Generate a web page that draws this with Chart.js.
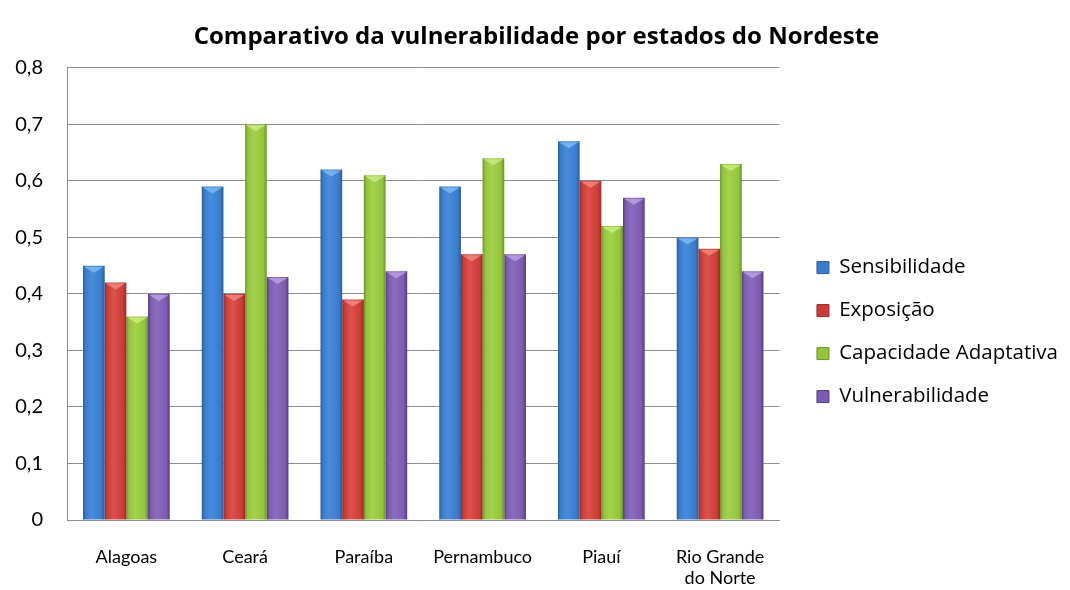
<!DOCTYPE html>
<html><head><meta charset="utf-8">
<script src="https://cdn.jsdelivr.net/npm/chart.js@4/dist/chart.umd.min.js"></script>
<style>html,body{margin:0;padding:0;background:#fff}#wrap{width:1070px;height:590px}</style>
</head><body><div id="wrap"><canvas id="c"></canvas></div>
<script>
const categories = ['Alagoas', 'Ceará', 'Paraíba', 'Pernambuco', 'Piauí', ['Rio Grande', 'do Norte']];
const seriesNames = ['Sensibilidade', 'Exposição', 'Capacidade Adaptativa', 'Vulnerabilidade'];
const sensibilidade = [0.45, 0.59, 0.62, 0.59, 0.67, 0.50];
const exposicao = [0.42, 0.40, 0.39, 0.47, 0.60, 0.48];
const capacidade = [0.36, 0.70, 0.61, 0.64, 0.52, 0.63];
const vulnerabilidade = [0.40, 0.43, 0.44, 0.47, 0.57, 0.44];
const yTicks = [0, 0.1, 0.2, 0.3, 0.4, 0.5, 0.6, 0.7, 0.8];

const palettes = [
  {dark:'#2a5a9a', mid:'#3a7ccc', light:'#4a8cdc', top:'#7fbcf2'},
  {dark:'#962a26', mid:'#cc3c36', light:'#dc524a', top:'#f08a84'},
  {dark:'#6a9226', mid:'#94c43c', light:'#a4d24e', top:'#cdec86'},
  {dark:'#523a7c', mid:'#7c5cae', light:'#8c6cbe', top:'#bca4e4'}
];

const FONT = 'Lato, "Open Sans", sans-serif';
const FONT2 = '"Open Sans", Lato, sans-serif';

function barGradient(ctx2d, x, w, p) {
  const g = ctx2d.createLinearGradient(x - w/2, 0, x + w/2, 0);
  g.addColorStop(0, p.dark);
  g.addColorStop(0.12, p.mid);
  g.addColorStop(0.4, p.light);
  g.addColorStop(0.85, p.mid);
  g.addColorStop(1, p.dark);
  return g;
}

const barStyler = {
  id: 'barStyler',
  beforeDatasetsDraw(chart) {
    const c = chart.ctx;
    chart.data.datasets.forEach((ds, i) => {
      const meta = chart.getDatasetMeta(i);
      meta.data.forEach(el => {
        el.options.backgroundColor = barGradient(c, el.x, el.width, palettes[i]);
      });
    });
  },
  afterDatasetsDraw(chart) {
    const c = chart.ctx;
    chart.data.datasets.forEach((ds, i) => {
      const meta = chart.getDatasetMeta(i);
      meta.data.forEach(el => {
        const l = el.x - el.width/2, r = el.x + el.width/2, t = el.y;
        c.save();
        c.fillStyle = palettes[i].top;
        c.globalAlpha = 0.8;
        c.beginPath();
        c.moveTo(l + 1, t + 1);
        c.lineTo(r - 1, t + 1);
        c.lineTo(el.x, t + 7);
        c.closePath();
        c.fill();
        c.restore();
      });
    });
  }
};

function build() {
new Chart(document.getElementById('c'), {
  type: 'bar',
  data: {
    labels: categories,
    datasets: [sensibilidade, exposicao, capacidade, vulnerabilidade].map((d, i) => ({
      label: seriesNames[i],
      data: d,
      backgroundColor: () => palettes[i].mid,
      borderWidth: 0,
      categoryPercentage: 0.73,
      barPercentage: 1.0
    }))
  },
  options: {
    responsive: true,
    maintainAspectRatio: false,
    animation: false,
    layout: {padding: {left: 5, right: 2, top: 10, bottom: 0}},
    plugins: {
      title: {
        display: true,
        text: 'Comparativo da vulnerabilidade por estados do Nordeste',
        color: '#000',
        font: {family: FONT2, size: 24, weight: 'bold'},
        padding: {top: 13, bottom: 16}
      },
      legend: {
        position: 'right',
        maxWidth: 320,
        title: {display: true, text: ' ', font: {size: 1}, padding: {top: 0, bottom: 63}},
        labels: {
          color: '#000',
          font: {family: FONT2, size: 20.5},
          boxWidth: 12,
          boxHeight: 12,
          padding: 22.5,
          generateLabels(chart) {
            return chart.data.datasets.map((ds, i) => ({
              text: ds.label,
              fillStyle: palettes[i].mid,
              strokeStyle: palettes[i].dark,
              lineWidth: 1,
              datasetIndex: i,
              fontColor: '#000'
            }));
          }
        }
      },
      tooltip: {enabled: false}
    },
    scales: {
      x: {
        grid: {display: false, drawTicks: false},
        border: {color: '#8c8c8c', width: 1},
        ticks: {color: '#000', font: {family: FONT, size: 18}, padding: 26, maxRotation: 0},
        afterFit(axis) { axis.height = 70; }
      },
      y: {
        min: 0, max: 0.8,
        afterBuildTicks(axis) { axis.ticks = yTicks.map(v => ({value: v})); },
        grid: {color: '#8c8c8c', drawTicks: false},
        border: {color: '#8c8c8c', width: 1},
        ticks: {
          color: '#000',
          font: {family: FONT, size: 20},
          padding: 24,
          callback: v => v === 0 ? '0' : v.toFixed(1).replace('.', ',')
        },
        afterFit(axis) { axis.width = 62; }
      },
      gap: {
        type: 'linear',
        position: 'right',
        display: true,
        grid: {drawOnChartArea: false, drawTicks: false},
        border: {display: false},
        ticks: {display: false},
        afterFit(axis) { axis.width = 15; }
      }
    }
  },
  plugins: [barStyler]
});
}

Promise.all([
  document.fonts.load('20.5px "Open Sans"'),
  document.fonts.load('bold 24px "Open Sans"'),
  document.fonts.load('18px Lato'),
  document.fonts.load('20px Lato')
]).then(build, build);
</script>
</body></html>
